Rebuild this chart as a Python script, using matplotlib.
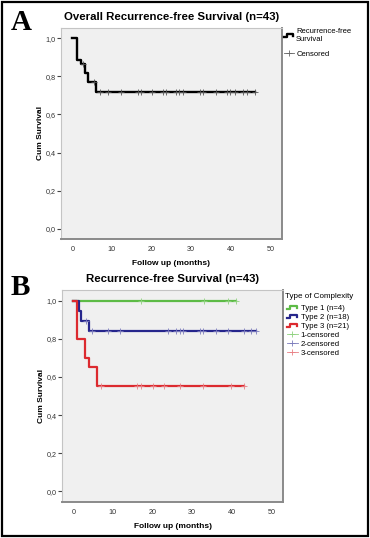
import matplotlib
matplotlib.use("Agg")
import matplotlib.pyplot as plt
import numpy as np
from matplotlib.lines import Line2D
from matplotlib.patches import Rectangle
from matplotlib.legend_handler import HandlerBase

plt.rcParams['font.family'] = ['Liberation Sans', 'DejaVu Sans']

# panel A: overall
a_event_t = [1.1, 2.2, 3.1, 4.0, 6.0]
a_event_s = [0.886, 0.867, 0.820, 0.772, 0.717]
a_cens_t = [2.7, 5.5, 7.0, 9.1, 12.2, 16.7, 17.3, 20.1, 23.0, 23.6, 26.2, 27.0,
            27.8, 32.2, 32.9, 36.2, 39.1, 39.8, 41.1, 43.0, 44.0, 46.1]

# panel B: by type of complexity
b_names = ["Type 1 (n=4)", "Type 2 (n=18)", "Type 3 (n=21)"]
b_cens_names = ["1-censored", "2-censored", "3-censored"]
b_event_t = [[], [1.4, 1.9, 4.0], [0.85, 2.9, 4.0, 5.9]]
b_event_s = [[], [0.947, 0.894, 0.840], [0.80, 0.70, 0.65, 0.55]]
b_cens_t = [[17.0, 32.9, 39.0, 41.0],
            [3.1, 4.8, 8.8, 11.9, 23.9, 25.9, 26.9, 27.7, 31.9, 32.7, 35.9,
             39.0, 43.0, 44.9, 46.0],
            [6.9, 16.0, 17.0, 20.0, 22.9, 26.9, 32.7, 39.9, 43.0]]
b_colors = ["#5dbb46", "#26268c", "#dc2a2f"]
b_cens_colors = ["#8fd27f", "#7c7cbc", "#e98085"]

xticks = [0, 10, 20, 30, 40, 50]
yticks = [0.0, 0.2, 0.4, 0.6, 0.8, 1.0]
ytick_labels = ["0,0", "0,2", "0,4", "0,6", "0,8", "1,0"]


def km_curve(ev_t, ev_s, cens_t):
    end = max(list(ev_t) + list(cens_t))
    x = [0] + list(ev_t) + [end]
    y = [1.0] + list(ev_s) + [ev_s[-1] if ev_s else 1.0]
    ct = np.array(cens_t)
    cs = np.ones(len(ct))
    for t, s in zip(ev_t, ev_s):
        cs[ct >= t] = s
    return x, y, ct, cs


class StepHandler(HandlerBase):
    def create_artists(self, legend, orig_handle, xdescent, ydescent,
                       width, height, fontsize, trans):
        x0 = -xdescent
        x1 = x0 + width
        ylo = -ydescent + height * 0.15
        yhi = -ydescent + height * 0.75
        xm = x0 + width * 0.3
        ln = Line2D([x0, xm, xm, x1 - width * 0.1, x1 - width * 0.1],
                    [ylo, ylo, yhi, yhi, ylo + height * 0.2],
                    color=orig_handle.get_color(),
                    lw=orig_handle.get_linewidth(), transform=trans)
        return [ln]


def style_axes(ax):
    ax.set_facecolor("#f0f0f0")
    ax.set_xlim(-2.85, 52.9)
    ax.set_ylim(-0.055, 1.055)
    ax.set_xticks(xticks)
    ax.set_yticks(yticks)
    ax.set_yticklabels(ytick_labels)
    ax.tick_params(axis='y', length=3, width=0.8, color="#444444", pad=1,
                   labelsize=5.2, labelcolor="#333333")
    ax.tick_params(axis='x', length=0, pad=5, labelsize=5.2, labelcolor="#333333")
    for s in ["top", "left"]:
        ax.spines[s].set_color("#c4c4c4")
        ax.spines[s].set_linewidth(0.8)
    for s in ["right", "bottom"]:
        ax.spines[s].set_color("#8a8a8a")
        ax.spines[s].set_linewidth(1.4)
    ax.set_xlabel("Follow up (months)", fontsize=6, fontweight='bold', labelpad=5)
    ax.set_ylabel("Cum Survival", fontsize=6, fontweight='bold', labelpad=1)


fig = plt.figure(figsize=(3.7, 5.38), dpi=100)

# ---- panel A
axA = fig.add_axes([61 / 370, 1 - 239 / 538, 221 / 370, 211 / 538])
style_axes(axA)
x, y, ct, cs = km_curve(a_event_t, a_event_s, a_cens_t)
axA.step(x, y, where='post', color="black", lw=1.7, zorder=3)
axA.plot(ct, cs, ls='none', marker='+', ms=5, mew=0.6, color="#555555", zorder=4)
axA.set_title("Overall Recurrence-free Survival (n=43)", fontsize=8.2, fontweight='bold', pad=6)

hA = [Line2D([], [], color="black", lw=1.7),
      Line2D([], [], color="#666666", lw=0.6, marker='+', ms=5, mew=0.6)]
fig.legend(hA, ["Recurrence-free\nSurvival", "Censored"], loc='upper left',
           bbox_to_anchor=(282 / 370, 1 - 26 / 538), frameon=False, fontsize=5.5,
           handlelength=1.4, handletextpad=0.25, labelspacing=1.0,
           borderaxespad=0, borderpad=0.2,
           handler_map={hA[0]: StepHandler()})

# ---- panel B
axB = fig.add_axes([62 / 370, 1 - 502 / 538, 221 / 370, 212 / 538])
style_axes(axB)
hB = []
for i in range(3):
    x, y, ct, cs = km_curve(b_event_t[i], b_event_s[i], b_cens_t[i])
    axB.step(x, y, where='post', color=b_colors[i], lw=1.6, zorder=3 + i)
    axB.plot(ct, cs, ls='none', marker='+', ms=5, mew=0.6, color=b_cens_colors[i], zorder=6)
    hB.append(Line2D([], [], color=b_colors[i], lw=1.6))
for i in range(3):
    hB.append(Line2D([], [], color=b_cens_colors[i], lw=0.6, marker='+', ms=5, mew=0.6))
axB.set_title("Recurrence-free Survival (n=43)", fontsize=8.2, fontweight='bold', pad=6)

fig.text(285 / 370, 1 - 297 / 538, "Type of Complexity", fontsize=5.8,
         va='center', ha='left')
handler = {h: StepHandler() for h in hB[:3]}
leg = fig.legend(hB, b_names + b_cens_names, loc='upper left',
                 bbox_to_anchor=(285 / 370, 1 - 303 / 538), frameon=False, fontsize=5.6,
                 handlelength=1.5, handletextpad=0.3, labelspacing=0.2,
                 borderaxespad=0, borderpad=0.2, handler_map=handler)

# panel letters and frame
fig.text(11 / 370, 1 - 30 / 538, "A", fontsize=21, fontweight='bold',
         family='Liberation Serif', va='baseline')
fig.text(11 / 370, 1 - 295 / 538, "B", fontsize=21, fontweight='bold',
         family='Liberation Serif', va='baseline')
fig.add_artist(Rectangle((2 / 370, 2 / 538), 366 / 370, 534 / 538, fill=False,
                         lw=1.6, ec="black", transform=fig.transFigure))

fig.savefig("out.png", dpi=100)
